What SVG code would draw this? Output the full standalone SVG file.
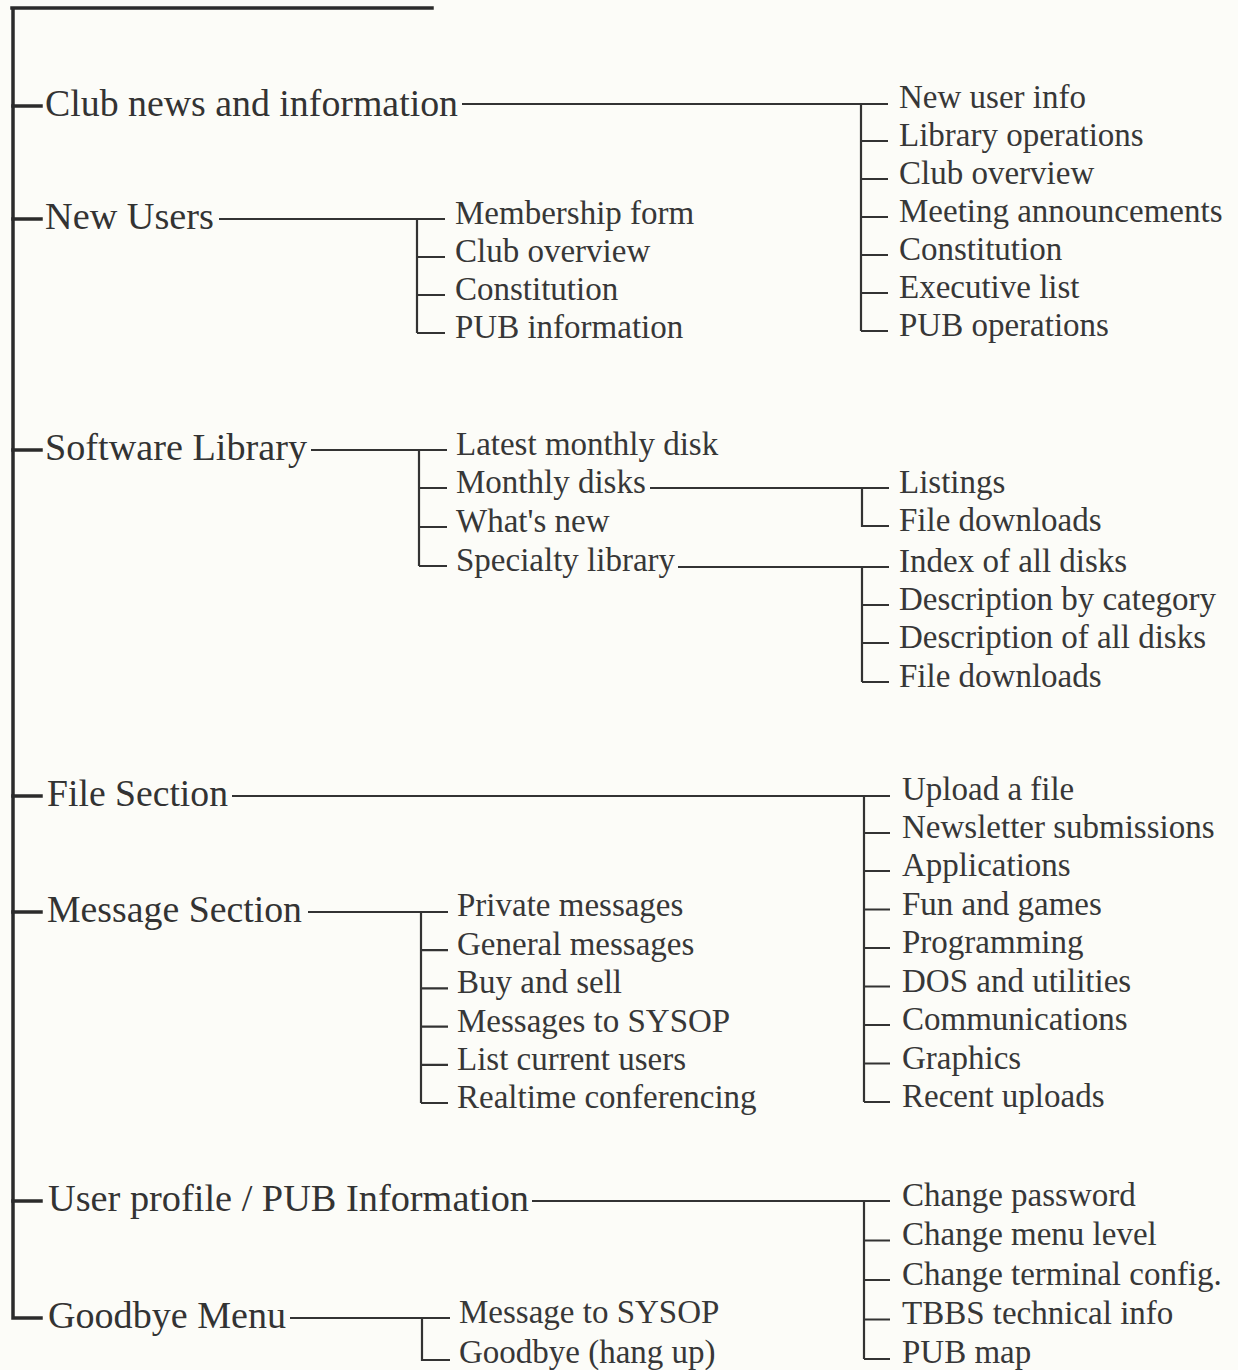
<svg xmlns="http://www.w3.org/2000/svg" width="1238" height="1370" viewBox="0 0 1238 1370">
<style>
.bg{fill:#fcfcf8}
.top{font-family:"Liberation Serif","Times New Roman",serif;font-size:38px;fill:#333}
.sub{font-family:"Liberation Serif","Times New Roman",serif;font-size:33px;fill:#373737}
.trunk{stroke:#2b2b2b;stroke-width:3.5;fill:none;stroke-linecap:square}
.ln{stroke:#333;stroke-width:2.2;fill:none}
</style>
<rect class="bg" x="0" y="0" width="1238" height="1370"/>
<g id="connectors">
  <path class="trunk" d="M12 8 H432 M13 8 V1318 H41"/>
  <path class="trunk" d="M13 106 H41 M13 219 H41 M13 450 H41 M13 796 H41 M13 912 H41 M13 1201 H41"/>
  <path class="ln" d="M462 104 H888 M861 104 V331 M861 141 H888 M861 179 H888 M861 217 H888 M861 255 H888 M861 293 H888 M861 331 H888"/>
  <path class="ln" d="M219 219 H445 M417 219 V333 M417 257 H445 M417 295 H445 M417 333 H445"/>
  <path class="ln" d="M311 450 H447 M419 450 V566 M419 488 H447 M419 527 H447 M419 566 H447"/>
  <path class="ln" d="M650 488 H889 M862 488 V526 H889"/>
  <path class="ln" d="M678 567 H889 M862 567 V682 M862 605 H889 M862 643 H889 M862 682 H889"/>
  <path class="ln" d="M232 796 H890 M864 796 V1102 M864 833 H890 M864 871 H890 M864 909.5 H890 M864 948 H890 M864 986.5 H890 M864 1025 H890 M864 1063.5 H890 M864 1102 H890"/>
  <path class="ln" d="M308 912 H448 M421 912 V1103 M421 950.2 H448 M421 988.4 H448 M421 1026.6 H448 M421 1064.8 H448 M421 1103 H448"/>
  <path class="ln" d="M532 1201 H890 M864 1201 V1359 M864 1240.5 H890 M864 1280 H890 M864 1319.5 H890 M864 1359 H890"/>
  <path class="ln" d="M290 1318 H450 M422 1318 V1360 H450"/>
</g>
<g id="club-news">
  <text class="top" x="45" y="116" textLength="413" lengthAdjust="spacingAndGlyphs">Club news and information</text>
  <g class="sub">
    <text x="899" y="108">New user info</text>
    <text x="899" y="146">Library operations</text>
    <text x="899" y="184">Club overview</text>
    <text x="899" y="222">Meeting announcements</text>
    <text x="899" y="260">Constitution</text>
    <text x="899" y="298">Executive list</text>
    <text x="899" y="336">PUB operations</text>
  </g>
</g>
<g id="new-users">
  <text class="top" x="45" y="229" textLength="169" lengthAdjust="spacingAndGlyphs">New Users</text>
  <g class="sub">
    <text x="455" y="224">Membership form</text>
    <text x="455" y="262">Club overview</text>
    <text x="455" y="300">Constitution</text>
    <text x="455" y="338">PUB information</text>
  </g>
</g>
<g id="software-library">
  <text class="top" x="45" y="460" textLength="262" lengthAdjust="spacingAndGlyphs">Software Library</text>
  <g class="sub">
    <text x="456" y="455">Latest monthly disk</text>
    <text x="456" y="493">Monthly disks</text>
    <text x="456" y="532">What's new</text>
    <text x="456" y="571">Specialty library</text>
  </g>
</g>
<g id="monthly-disks">
  <g class="sub">
    <text x="899" y="493">Listings</text>
    <text x="899" y="531">File downloads</text>
  </g>
</g>
<g id="specialty-library">
  <g class="sub">
    <text x="899" y="572">Index of all disks</text>
    <text x="899" y="610">Description by category</text>
    <text x="899" y="648">Description of all disks</text>
    <text x="899" y="687">File downloads</text>
  </g>
</g>
<g id="file-section">
  <text class="top" x="47" y="806" textLength="181" lengthAdjust="spacingAndGlyphs">File Section</text>
  <g class="sub">
    <text x="902" y="800">Upload a file</text>
    <text x="902" y="838">Newsletter submissions</text>
    <text x="902" y="876">Applications</text>
    <text x="902" y="914.5">Fun and games</text>
    <text x="902" y="953">Programming</text>
    <text x="902" y="991.5">DOS and utilities</text>
    <text x="902" y="1030">Communications</text>
    <text x="902" y="1068.5">Graphics</text>
    <text x="902" y="1107">Recent uploads</text>
  </g>
</g>
<g id="message-section">
  <text class="top" x="47" y="922" textLength="255" lengthAdjust="spacingAndGlyphs">Message Section</text>
  <g class="sub">
    <text x="457" y="916">Private messages</text>
    <text x="457" y="954.5">General messages</text>
    <text x="457" y="993">Buy and sell</text>
    <text x="457" y="1031.5">Messages to SYSOP</text>
    <text x="457" y="1070">List current users</text>
    <text x="457" y="1108">Realtime conferencing</text>
  </g>
</g>
<g id="user-profile">
  <text class="top" x="48" y="1211" textLength="481" lengthAdjust="spacingAndGlyphs">User profile / PUB Information</text>
  <g class="sub">
    <text x="902" y="1206">Change password</text>
    <text x="902" y="1245">Change menu level</text>
    <text x="902" y="1285">Change terminal config.</text>
    <text x="902" y="1324">TBBS technical info</text>
    <text x="902" y="1363">PUB map</text>
  </g>
</g>
<g id="goodbye-menu">
  <text class="top" x="48" y="1328" textLength="238" lengthAdjust="spacingAndGlyphs">Goodbye Menu</text>
  <g class="sub">
    <text x="459" y="1323">Message to SYSOP</text>
    <text x="459" y="1363">Goodbye (hang up)</text>
  </g>
</g>
</svg>
